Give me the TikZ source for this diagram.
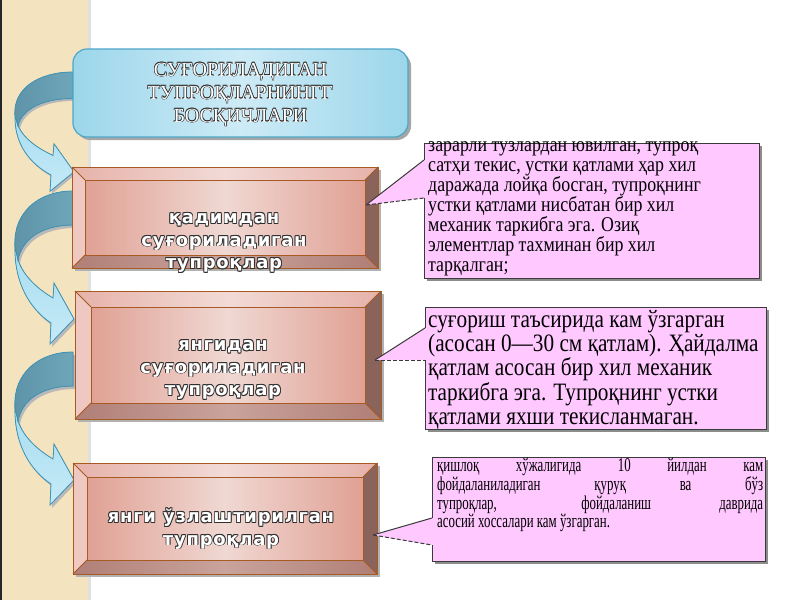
\documentclass[tikz,border=0pt]{standalone}
\usepackage{fontspec}
\setmainfont{Liberation Serif}
\newfontfamily\boxfont{DejaVu Sans}[LetterSpace=4]
\newfontfamily\calfont{Liberation Serif}[FakeStretch=0.85]
\newfontfamily\calfontc{Liberation Serif}[FakeStretch=0.66]
\usetikzlibrary{calc}

\definecolor{beige}{HTML}{F3E3BE}
\definecolor{tbfill}{HTML}{9CD6EA}
\definecolor{tbmid}{HTML}{CDEBF6}
\definecolor{tbline}{HTML}{4FA6C8}
\definecolor{bvface}{HTML}{E0A194}
\definecolor{bvmid}{HTML}{F0D8D3}
\definecolor{bvtop}{HTML}{E6B2A9}
\definecolor{bvtopmid}{HTML}{F2DAD6}
\definecolor{bvleft}{HTML}{EEC8C1}
\definecolor{bvright}{HTML}{8A635B}
\definecolor{bvbot}{HTML}{B07F76}
\definecolor{bvbotmid}{HTML}{C9A39C}
\definecolor{bvline}{HTML}{A85A24}
\definecolor{calfill}{HTML}{FFC8FF}
\definecolor{calline}{HTML}{3A3A3A}
\definecolor{ardark}{HTML}{6EA6BA}
\definecolor{ardark2}{HTML}{5E93A8}
\definecolor{arlight}{HTML}{A8DDF0}
\definecolor{arlight2}{HTML}{C6EAF7}
\definecolor{arline}{HTML}{3E95B6}
\definecolor{olc}{HTML}{303030}

\newbox\olbox
\newdimen\olw \olw=0.7pt
\newcommand\olt[1]{\setbox\olbox=\hbox{#1}%
 \leavevmode
 \rlap{\color{olc}\kern-\olw\copy\olbox}%
 \rlap{\color{olc}\kern\olw\copy\olbox}%
 \rlap{\color{olc}\raise\olw\copy\olbox}%
 \rlap{\color{olc}\lower\olw\copy\olbox}%
 \rlap{\color{olc}\kern-\olw\raise\olw\copy\olbox}%
 \rlap{\color{olc}\kern\olw\raise\olw\copy\olbox}%
 \rlap{\color{olc}\kern-\olw\lower\olw\copy\olbox}%
 \rlap{\color{olc}\kern\olw\lower\olw\copy\olbox}%
 \hbox{\color{white}\copy\olbox}}

% curved arrow: #1 tail top y, #2 vertical scale
\newcommand\curvarrow[2]{%
 \begin{scope}[shift={(0,#1)}, yscale=#2]
  \begin{scope}[shift={(2,3)}]
   \fill[black!28] (73,0) .. controls (38,0) and (13,22) .. (15,55)
     .. controls (14,92) and (30,118) .. (51,132) -- (50,153) -- (74,128) -- (54,92) -- (53,107)
     .. controls (38,98) and (24,86) .. (18,69) .. controls (22,48) and (42,34) .. (73,34) -- cycle;
  \end{scope}
  \filldraw[draw=arline, line width=0.8, top color=arlight, bottom color=arlight2]
     (15,55) .. controls (14,92) and (30,118) .. (51,132) -- (50,153) -- (74,128) -- (54,92) -- (53,107)
     .. controls (38,98) and (24,86) .. (18,69) -- cycle;
  \filldraw[draw=arline, line width=0.8, left color=ardark2, right color=ardark]
     (73,0) .. controls (38,0) and (13,22) .. (15,55) -- (18,69)
     .. controls (22,48) and (42,34) .. (73,34) -- cycle;
 \end{scope}}

% bevel box: #1 x1, #2 y1, #3 x2, #4 y2, #5 inset, #6 name
\newcommand\bevelbox[6]{%
 \fill[black!30] (#1+3,#2+3) rectangle (#3+3,#4+3);
 \fill[left color=bvtop, right color=bvtop, middle color=bvtopmid]
   (#1,#2) -- (#3,#2) -- (#3-#5,#2+#5) -- (#1+#5,#2+#5) -- cycle;
 \fill[bvleft] (#1,#2) -- (#1+#5,#2+#5) -- (#1+#5,#4-#5) -- (#1,#4) -- cycle;
 \fill[bvright] (#3,#2) -- (#3,#4) -- (#3-#5,#4-#5) -- (#3-#5,#2+#5) -- cycle;
 \fill[left color=bvbot, right color=bvbot, middle color=bvbotmid]
   (#1,#4) -- (#3,#4) -- (#3-#5,#4-#5) -- (#1+#5,#4-#5) -- cycle;
 \fill[left color=bvface, right color=bvface, middle color=bvmid]
   (#1+#5,#2+#5) rectangle (#3-#5,#4-#5);
 \draw[bvl] (#1,#2) rectangle (#3,#4);
 \draw[bvl] (#1+#5,#2+#5) rectangle (#3-#5,#4-#5);
 \draw[bvl] (#1,#2) -- (#1+#5,#2+#5) (#3,#2) -- (#3-#5,#2+#5)
   (#1,#4) -- (#1+#5,#4-#5) (#3,#4) -- (#3-#5,#4-#5);
 \node[inner sep=0, minimum width={(#3-#1)*1pt}, minimum height={(#4-#2)*1pt}]
   (#6) at ({(#1+#3)/2},{(#2+#4)/2}) {};}

% callout: #1 x1, #2 y1, #3 x2, #4 y2, #5 upper base y, #6 lower base y, #7 tip
\newcommand\callout[7]{%
 \fill[black!45] (#1+3,#2+3) rectangle (#3+3,#4+3);
 \fill[calfill] (#1,#2) -- (#3,#2) -- (#3,#4) -- (#1,#4) -- (#1,#6) -- (#7) -- (#1,#5) -- cycle;
 \draw[calline, line width=1] (#1,#5) -- (#1,#2) -- (#3,#2) -- (#3,#4) -- (#1,#4) -- (#1,#6);
 \draw[calline, line width=1] (#1,#5) -- (#7);
 \draw[calline, line width=1, dash pattern=on 4pt off 2pt] (#7) -- (#1,#6);}

\begin{document}
\begin{tikzpicture}[x=1pt,y=-1pt,
  bvl/.style={draw=bvline, line width=0.8},
  toptext/.style={align=center, inner sep=0, font={\fontsize{20}{23}\selectfont\olw=0.5pt}},
  boxtext/.style={align=center, inner sep=0, font={\boxfont\bfseries\fontsize{18}{22.5}\selectfont\olw=0.7pt}},
  caltext/.style={align=left, inner sep=0, anchor=north west}]
\useasboundingbox (0,0) rectangle (800,600);
\fill[white] (0,0) rectangle (800,600);
\fill[beige] (0,0) rectangle (88,600);
\fill[black!12] (88,0) rectangle (91,600);
\draw[black!85, line width=2] (1,0) -- (1,600);

% curved arrows
\curvarrow{72}{0.78}
\curvarrow{191}{1}
\curvarrow{352}{1}

% top box
\fill[black!35, rounded corners=14] (76,52) rectangle (411,140);
\draw[tbline, line width=1.2, rounded corners=14, left color=tbfill, right color=tbfill, middle color=tbmid] (73,49) rectangle (408,137);
\node[toptext] (top) at (240.5,95) {\olt{СУҒОРИЛАДИГАН}\\\olt{ТУПРОҚЛАРНИНГГ}\\\olt{БОСҚИЧЛАРИ}};

% bevel boxes
\bevelbox{72}{167}{378}{268}{13}{b1}
\node[boxtext] (b1t) at (224,243) {\olt{қадимдан}\\\olt{суғориладиган}\\\olt{тупроқлар}};
\bevelbox{75}{291}{381}{419}{16}{b2}
\node[boxtext] (b2t) at (223,370) {\olt{янгидан}\\\olt{суғориладиган}\\\olt{тупроқлар}};
\bevelbox{73}{463}{377}{574}{14}{b3}
\node[boxtext] (b3t) at (221,529) {\olt{янги ўзлаштирилган}\\\olt{тупроқлар}};

% callouts
\coordinate (p1) at (366,205);
\coordinate (p2) at (375,360);
\coordinate (p3) at (373,535);
\callout{424}{143}{759}{278}{160}{198}{p1}
\node[caltext, font={\calfont\fontsize{21}{20}\selectfont}] (c1) at (428,134)
 {\rule{0pt}{17pt}зарарли тузлардан ювилган, тупроқ\\
  сатҳи текис, устки қатлами ҳар хил\\
  даражада лойқа босган, тупроқнинг\\
  устки қатлами нисбатан бир хил\\
  механик таркибга эга. Озиқ\\
  элементлар тахминан бир хил\\
  тарқалган;};
\callout{425}{307}{766}{429}{328}{360}{p2}
\node[caltext, font={\calfont\fontsize{25}{24.3}\selectfont}] (c2) at (428,307)
 {\rule{0pt}{20pt}суғориш таъсирида кам ўзгарган\\
  (асосан 0—30 см қатлам). Ҳайдалма\\
  қатлам асосан бир хил механик\\
  таркибга эга. Тупроқнинг устки\\
  қатлами яхши текисланмаган.};
\callout{432}{457}{765}{561}{518}{545}{p3}
\node[caltext, font={\calfontc\fontsize{19.5}{17}\selectfont}] (c3) at (437,456)
 {\rule{0pt}{15pt}\makebox[326pt][s]{қишлоқ хўжалигида 10 йилдан кам}\\
  \makebox[326pt][s]{фойдаланиладиган қуруқ ва бўз}\\
  \makebox[326pt][s]{тупроқлар, фойдаланиш даврида}\\
  асосий хоссалари кам ўзгарган.};
\end{tikzpicture}
\end{document}
